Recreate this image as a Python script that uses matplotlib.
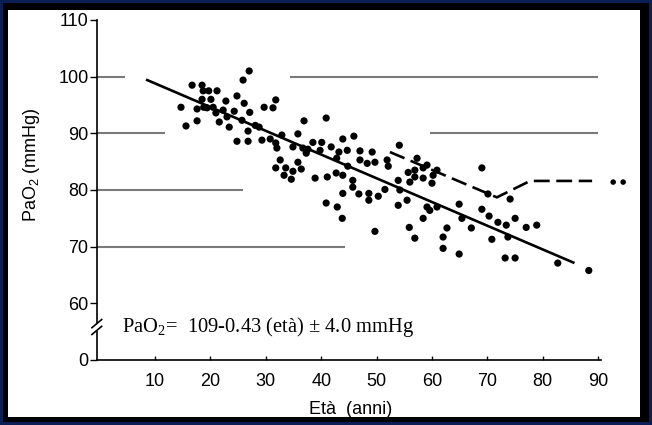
import matplotlib
matplotlib.use('Agg')
import matplotlib.pyplot as plt
from matplotlib.patches import Rectangle

# punti: età (anni) e PaO2 (mmHg)
eta = [14.7, 15.6, 16.7, 17.6, 17.6, 18.5, 18.7, 18.5, 19.7, 20.1,
       18.8, 19.4, 20.5, 21.2, 21.0, 21.6, 22.8, 22.3, 23.0, 23.4,
       24.3, 24.8, 25.9, 27.0, 26.1, 27.1, 25.7, 26.8, 24.8, 26.8,
       28.1, 28.8, 29.7, 31.3, 31.8, 29.3, 30.8, 31.8, 32.0, 32.9,
       32.6, 31.8, 33.6, 33.3, 34.6, 34.9, 34.9, 35.8, 36.4, 35.8,
       36.9, 36.7, 37.3, 37.6, 38.5, 40.1, 39.8, 40.9, 41.8, 42.8,
       43.2, 43.9, 44.7, 38.9, 41.1, 42.7, 43.9, 44.8, 43.9, 40.9,
       42.9, 43.8, 45.9, 47.0, 49.2, 47.0, 48.3, 49.7, 51.9, 52.1,
       45.7, 45.7, 46.8, 48.6, 48.6, 50.3, 51.5, 49.7, 54.1, 53.9,
       54.2, 53.9, 55.7, 56.0, 55.5, 56.9, 57.3, 56.9, 58.4, 58.4,
       59.1, 60.2, 60.0, 60.9, 59.1, 59.6, 60.9, 58.4, 55.9, 56.9,
       62.0, 62.0, 62.7, 64.9, 64.9, 65.4, 67.1, 69.0, 69.0, 70.1,
       70.3, 71.9, 73.4, 74.1, 75.0, 70.8, 73.7, 73.2, 75.0, 77.0,
       78.9, 82.7, 88.3]
pao2 = [94.6, 91.3, 98.5, 94.3, 92.2, 98.5, 97.5, 96.0, 97.5, 96.0,
        94.6, 94.5, 94.6, 97.5, 93.6, 92.0, 95.7, 94.1, 92.9, 91.1,
        93.9, 96.6, 99.4, 101.0, 95.3, 93.7, 92.3, 90.4, 88.6, 88.6,
        91.4, 91.1, 94.6, 94.5, 95.9, 88.8, 89.0, 88.3, 87.4, 89.7,
        85.3, 83.9, 83.9, 82.6, 81.9, 83.3, 87.6, 89.9, 83.7, 84.9,
        92.2, 87.4, 86.5, 87.2, 88.4, 88.4, 87.0, 92.7, 87.6, 85.6,
        86.7, 89.0, 87.0, 82.1, 82.3, 83.0, 82.6, 84.2, 79.4, 77.7,
        77.0, 75.0, 89.5, 86.9, 86.7, 85.3, 84.7, 84.9, 85.3, 84.2,
        81.7, 80.5, 79.3, 78.2, 79.4, 78.9, 80.1, 72.7, 87.9, 81.7,
        80.0, 77.3, 83.1, 81.4, 78.2, 83.5, 85.6, 82.3, 83.9, 82.1,
        84.4, 82.6, 81.2, 83.5, 77.0, 76.4, 77.0, 75.0, 73.4, 71.5,
        71.7, 69.7, 73.3, 68.7, 77.5, 75.0, 73.3, 83.9, 76.6, 79.3,
        75.4, 74.3, 73.8, 78.4, 75.0, 71.3, 71.7, 68.0, 68.0, 73.4,
        73.8, 67.1, 65.8]

# retta di regressione come disegnata
retta_x = [8.6, 85.5]
retta_y = [99.4, 67.2]

# curva tratteggiata
tratt_x = [52.4, 71.7, 77.7, 88.9]
tratt_y = [86.7, 78.7, 81.6, 81.6]
fine_x = [92.7, 94.5]
fine_y = [81.4, 81.4]

# linee grigie di riferimento
rif_y = [100, 100, 90, 90, 80, 70]
rif_x0 = [-0.5, 34.4, -0.5, 59.6, -0.5, -0.5]
rif_x1 = [4.6, 90.0, 11.8, 90.0, 25.9, 44.3]

xticks = [10, 20, 30, 40, 50, 60, 70, 80, 90]
yticks = [50, 60, 70, 80, 90, 100, 110]
ylabels = ['0', '60', '70', '80', '90', '100', '110']

sans = 'Liberation Sans'
serif = 'Liberation Serif'

fig = plt.figure(figsize=(6.52, 4.25), dpi=100)
fig.patch.set_facecolor('#0b1e55')
fig.patches.append(Rectangle((3/652, 3/425), 646/652, 419/425, transform=fig.transFigure,
                             facecolor='black', edgecolor='none', zorder=-3))
fig.patches.append(Rectangle((8/652, 8/425), 632/652, 407/425, transform=fig.transFigure,
                             facecolor='white', edgecolor='none', zorder=-2))

ax = fig.add_axes([96.8/652, 65/425, 540.2/652, 340/425])
ax.set_facecolor('none')
ax.set_xlim(-0.5, 97)
ax.set_ylim(50, 110)

for yy, a, b in zip(rif_y, rif_x0, rif_x1):
    ax.plot([a, b], [yy, yy], color='#7a7a7a', lw=1.5, solid_capstyle='butt', zorder=1)

ax.scatter(eta, pao2, s=27, color='black', edgecolors='none', zorder=3)
ax.plot(retta_x, retta_y, color='black', lw=1.9, zorder=2)
ax.plot(tratt_x, tratt_y, color='black', lw=1.9, linestyle=(0, (6, 2.5)), zorder=2)
ax.scatter(fine_x, fine_y, s=16, color='black', edgecolors='none', zorder=3, clip_on=False)

for s in ['top', 'right']:
    ax.spines[s].set_visible(False)
ax.spines['left'].set_linewidth(1.2)
ax.spines['bottom'].set_linewidth(1.2)
ax.spines['bottom'].set_bounds(-0.5, 90.5)

ax.set_xticks(xticks)
ax.set_xticklabels([str(t) for t in xticks], fontfamily=sans, fontsize=13)
ax.set_yticks(yticks)
ax.set_yticklabels(ylabels, fontfamily=sans, fontsize=13)
ax.tick_params(axis='x', direction='in', length=3, width=1, pad=9)
ax.tick_params(axis='y', direction='out', length=5, width=1, pad=1)

ax.set_ylabel(r'PaO$_\mathregular{2}$ (mmHg)', fontfamily=sans, fontsize=13)
ax.yaxis.set_label_coords(-0.102, 0.574)
ax.set_xlabel('Età  (anni)', fontfamily=sans, fontsize=13)
ax.xaxis.set_label_coords(0.469, -0.12)

# interruzione dell'asse y
yb = 0.097
ax.add_patch(Rectangle((-0.006, yb - 0.012), 0.012, 0.024, transform=ax.transAxes,
                       facecolor='white', edgecolor='none', clip_on=False, zorder=4))
for dy in [-0.01, 0.01]:
    ax.plot([-0.009, 0.009], [yb + dy - 0.012, yb + dy + 0.012], color='black', lw=1.2,
            transform=ax.transAxes, clip_on=False, zorder=5)

ax.text(4.0, 55.9, r'PaO$_\mathregular{2}$=  109-0.43 (età) ± 4.0 mmHg', fontfamily=serif,
        fontsize=14.8, va='center', ha='left')

fig.savefig('out.png', dpi=100, facecolor=fig.get_facecolor())
